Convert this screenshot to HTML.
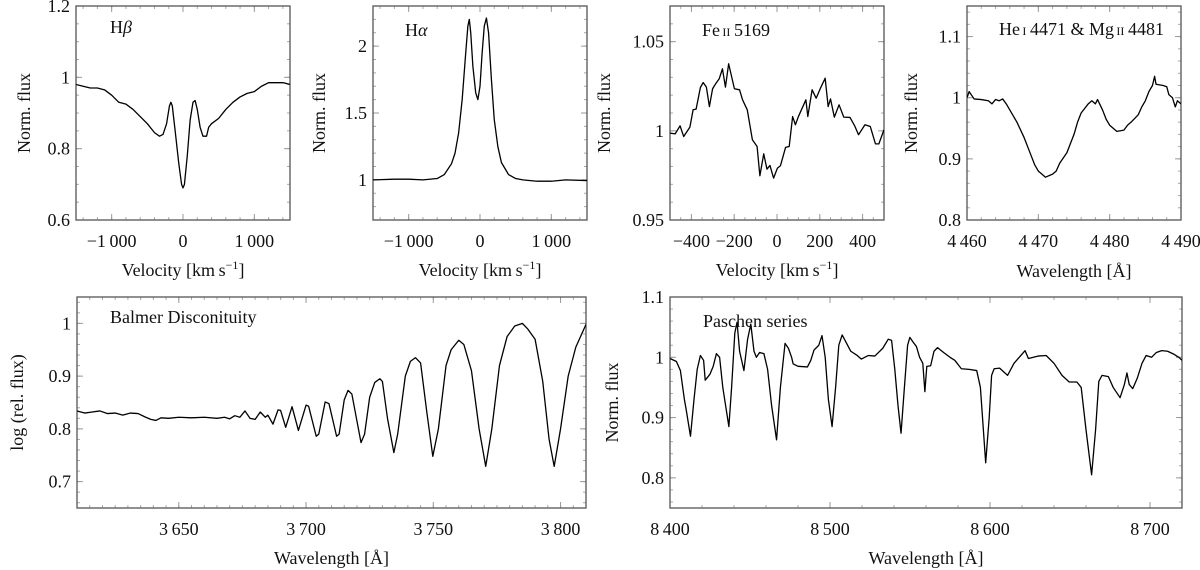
<!DOCTYPE html>
<html><head><meta charset="utf-8"><style>
html,body{margin:0;padding:0;background:#fff;}
svg{display:block;font-family:"Liberation Serif",serif;}
</style></head><body>
<svg id="fig" width="1200" height="570" viewBox="0 0 1200 570" xmlns="http://www.w3.org/2000/svg"></svg>
<script>
// ---- Hbeta ----
const hbVel = [-1500,-1400,-1300,-1200,-1100,-1000,-900,-800,-700,-600,-500,-400,-330,-280,-230,-190,-170,-150,-110,-60,-20,0,20,60,100,140,170,200,240,280,330,360,400,500,600,700,800,900,1000,1100,1200,1300,1400,1500];
const hbFlux = [0.98,0.975,0.97,0.97,0.965,0.95,0.93,0.925,0.91,0.89,0.87,0.845,0.835,0.84,0.87,0.92,0.93,0.92,0.85,0.76,0.70,0.69,0.70,0.78,0.88,0.93,0.935,0.91,0.86,0.835,0.835,0.86,0.87,0.885,0.91,0.93,0.945,0.955,0.96,0.975,0.985,0.985,0.985,0.98];
// ---- Halpha ----
const haVel = [-1500,-1200,-1000,-800,-600,-500,-400,-350,-300,-250,-200,-170,-150,-130,-100,-60,-30,0,30,60,90,120,160,200,250,300,400,500,600,800,1000,1200,1500];
const haFlux = [1.0,1.005,1.005,1.0,1.01,1.04,1.12,1.2,1.35,1.6,1.95,2.15,2.2,2.1,1.85,1.65,1.6,1.7,1.95,2.15,2.21,2.1,1.75,1.45,1.25,1.13,1.04,1.01,1.0,0.99,0.99,1.0,0.995];
// ---- Fe II 5169 ----
const feVel = [-500,-476,-453,-436,-407,-392,-378,-358,-345,-330,-316,-301,-285,-270,-255,-241,-226,-199,-175,-161,-139,-115,-93,-80,-62,-47,-33,-16,2,16,40,57,73,86,100,135,144,164,183,203,225,239,250,268,290,312,341,363,381,411,436,460,476,500];
const feFlux = [0.9987,0.9983,1.0028,0.9968,1.0021,1.0118,1.0122,1.0243,1.0271,1.0245,1.0136,1.0236,1.0267,1.0292,1.0348,1.0245,1.0376,1.0236,1.0230,1.0174,1.0118,0.9950,0.9912,0.9748,0.9871,0.9785,0.9806,0.9735,0.9791,0.9804,0.9907,0.9912,1.0080,1.0034,1.0080,1.0174,1.0080,1.0230,1.0183,1.0239,1.0295,1.0136,1.0179,1.0077,1.0146,1.0077,1.0075,1.0028,0.9978,1.0034,1.0024,0.9927,0.9927,1.0006];
// ---- He I 4471 & Mg II 4481 ----
const heWl = [4460,4460.3,4461,4462,4463,4463.5,4464,4464.5,4465,4465.5,4466,4467,4468,4469,4469.5,4470,4470.5,4471,4472,4472.5,4473,4474,4475,4475.5,4476,4477,4477.5,4478,4478.3,4479,4479.5,4480,4481,4482,4482.5,4483,4484,4484.5,4485,4485.5,4486,4486.3,4486.5,4487.5,4488,4488.3,4488.8,4489.2,4489.5,4490];
const heFlux = [1.0,1.01,0.998,0.997,0.995,0.99,0.997,0.995,0.998,0.99,0.98,0.96,0.935,0.905,0.89,0.88,0.875,0.87,0.875,0.88,0.893,0.91,0.94,0.96,0.975,0.99,0.995,0.99,0.997,0.98,0.965,0.955,0.945,0.947,0.955,0.96,0.972,0.985,0.995,1.01,1.02,1.035,1.022,1.02,1.018,1.005,1.0,0.985,0.995,0.99];
// ---- Balmer discontinuity ----
const baWl = [3610,3613,3616,3619,3622,3625,3628,3631,3634,3637,3639,3641,3643,3646,3650,3655,3660,3665,3668,3670,3672,3674,3676,3678,3680,3682,3684,3685,3687,3689,3690,3692,3694.5,3697,3700,3701,3704,3705,3707.5,3709,3712,3713,3715,3716.5,3718,3721.6,3723,3725,3727,3729,3730,3732,3734.5,3736,3739,3741,3743,3745,3747.5,3749.8,3752,3755,3757,3760,3762,3765,3768,3770.6,3773,3776,3779,3782,3785,3787,3790,3793,3795.5,3797.5,3800,3803,3806,3810];
const baFlux = [0.834,0.830,0.832,0.834,0.829,0.830,0.826,0.830,0.829,0.822,0.818,0.816,0.821,0.820,0.822,0.821,0.822,0.820,0.822,0.819,0.825,0.822,0.834,0.820,0.818,0.832,0.822,0.826,0.809,0.836,0.835,0.803,0.842,0.797,0.845,0.843,0.786,0.790,0.851,0.848,0.786,0.790,0.855,0.873,0.866,0.774,0.790,0.860,0.888,0.895,0.890,0.820,0.755,0.790,0.900,0.928,0.935,0.925,0.830,0.748,0.800,0.920,0.950,0.968,0.960,0.910,0.800,0.729,0.800,0.920,0.975,0.995,1.0,0.990,0.970,0.890,0.780,0.729,0.800,0.900,0.955,0.998];
// ---- Paschen series ----
const paWl = [8400,8404,8406.5,8409,8410,8412.8,8415,8417,8419,8421,8422,8425,8427,8429,8431,8433,8436.8,8438.5,8440.5,8441.9,8443.5,8446.2,8448.5,8450.5,8452.5,8454,8456,8458.7,8461,8463.5,8466.6,8469,8471.9,8474,8476,8477,8480,8485.9,8488,8490,8493,8495,8497,8499,8501.3,8503.5,8505.5,8507.6,8510,8513,8517,8519.6,8524,8528,8533,8536.4,8538.5,8540.5,8542.5,8544.4,8546.5,8548.5,8549.9,8552,8554,8556,8558,8559.3,8560.5,8562.9,8565,8567.2,8571,8575,8578,8582.1,8587,8591.7,8594,8597.3,8599.5,8601,8602.6,8606,8611,8615,8621.9,8624,8630,8635.1,8640,8645,8649.5,8654.3,8657,8660,8663.5,8666,8668,8670,8674,8677,8681.3,8684,8685.6,8687,8689.2,8692,8695,8697.6,8701,8704,8707.3,8711,8715,8718,8720];
const paFlux = [0.998,0.993,0.978,0.930,0.915,0.869,0.930,0.980,1.003,0.995,0.962,0.972,0.985,1.006,1.000,0.950,0.885,0.950,1.040,1.058,1.010,0.978,1.030,1.055,1.010,1.000,1.008,1.006,0.980,0.920,0.863,0.950,1.023,1.015,1.000,0.989,0.985,0.984,0.995,1.012,1.020,1.036,1.000,0.930,0.885,0.950,1.020,1.037,1.025,1.010,1.003,0.997,1.003,1.002,1.015,1.030,1.028,0.980,0.920,0.874,0.950,1.020,1.033,1.025,1.018,1.000,0.990,0.943,0.985,0.986,1.010,1.016,1.008,1.000,0.995,0.981,0.980,0.978,0.950,0.825,0.900,0.970,0.981,0.982,0.970,0.990,1.011,0.998,1.002,1.003,0.990,0.970,0.959,0.959,0.950,0.880,0.805,0.880,0.960,0.970,0.968,0.950,0.933,0.955,0.974,0.955,0.948,0.965,0.990,1.003,1.000,1.008,1.011,1.010,1.005,1.000,0.995];

const NS = "http://www.w3.org/2000/svg";
const svg = document.getElementById('fig');
function mk(tag, attrs, parent){
  const e = document.createElementNS(NS, tag);
  for (const k in attrs) e.setAttribute(k, attrs[k]);
  (parent||svg).appendChild(e);
  return e;
}
function fmt(v){
  let s = String(parseFloat(Math.abs(v).toFixed(4)));
  let [i, f] = s.split('.');
  if (i.length >= 4) i = i.slice(0, i.length-3) + '\u2009' + i.slice(-3);
  s = f ? i + '.' + f : i;
  return (v < 0 ? '\u2212' : '') + s;
}
let clipId = 0;
const FS = 18;
function panel(cfg){
  const g = mk('g', {});
  
  
  const {x0,x1,y0,y1,xmin,xmax,ymin,ymax} = cfg;
  const sx = v => x0 + (v - xmin) / (xmax - xmin) * (x1 - x0);
  const sy = v => y1 - (v - ymin) / (ymax - ymin) * (y1 - y0);
  for (let v = Math.ceil(xmin/cfg.xminor - 1e-6)*cfg.xminor; v <= xmax + 1e-9; v += cfg.xminor){
    const X = sx(v);
    mk('line',{x1:X,x2:X,y1:y1,y2:y1-3,stroke:'#aaa','stroke-width':1},g);
    mk('line',{x1:X,x2:X,y1:y0,y2:y0+3,stroke:'#aaa','stroke-width':1},g);
  }
  for (let v = Math.ceil(ymin/cfg.yminor - 1e-6)*cfg.yminor; v <= ymax + 1e-9; v += cfg.yminor){
    const Y = sy(v);
    mk('line',{x1:x0,x2:x0+3,y1:Y,y2:Y,stroke:'#aaa','stroke-width':1},g);
    mk('line',{x1:x1,x2:x1-3,y1:Y,y2:Y,stroke:'#aaa','stroke-width':1},g);
  }
  cfg.xticks.forEach(v => {
    const X = sx(v);
    mk('line',{x1:X,x2:X,y1:y1,y2:y1-6,stroke:'#999','stroke-width':1},g);
    mk('line',{x1:X,x2:X,y1:y0,y2:y0+6,stroke:'#999','stroke-width':1},g);
    const t = mk('text',{x:X,y:y1+27,'text-anchor':'middle','font-size':FS,fill:'#111'},g);
    t.textContent = fmt(v);
    
    
  });
  cfg.yticks.forEach(v => {
    const Y = sy(v);
    mk('line',{x1:x0,x2:x0+6,y1:Y,y2:Y,stroke:'#999','stroke-width':1},g);
    mk('line',{x1:x1,x2:x1-6,y1:Y,y2:Y,stroke:'#999','stroke-width':1},g);
    const t = mk('text',{x:x0-6,y:Y+6,'text-anchor':'end','font-size':FS,fill:'#111'},g);
    t.textContent = fmt(v);
    
    
  });
  const fr = mk('rect',{x:x0,y:y0,width:x1-x0,height:y1-y0,fill:'none',stroke:'#555','stroke-width':1.3},g);
  
  
  clipId++;
  const cp = mk('clipPath',{id:'c'+clipId},g);
  mk('rect',{x:x0,y:y0,width:x1-x0,height:y1-y0},cp);
  let d = '';
  cfg.xs.forEach((v,i) => { d += (i ? 'L' : 'M') + sx(v).toFixed(2) + ' ' + sy(cfg.ys[i]).toFixed(2); });
  const p = mk('path',{d:d,fill:'none',stroke:'#000','stroke-width':1.3,'stroke-linejoin':'round','clip-path':'url(#c'+clipId+')'},g);
  
  
  const xl = mk('text',{x:(x0+x1)/2,y:cfg.xlabY,'text-anchor':'middle','font-size':FS,fill:'#111'},g);
  xl.innerHTML = cfg.xlabel;
  
  
  const yl = mk('text',{x:0,y:0,'text-anchor':'middle','font-size':FS,fill:'#111',transform:'translate('+cfg.ylabX+','+((y0+y1)/2)+') rotate(-90)'},g);
  yl.textContent = cfg.ylabel;
  
  
  const an = mk('text',{x:cfg.ax,y:cfg.ay,'font-size':FS,fill:'#111'},g);
  an.innerHTML = cfg.annot;
  
  
}
const vlab = 'Velocity [km\u2009s<tspan dy="-7" font-size="12">\u22121</tspan><tspan dy="7">]</tspan>';
const wlab = 'Wavelength [Å]';
const sm = s => '<tspan font-size="12">' + s + '</tspan>';
panel({name:'hbeta-panel',x0:76,x1:290,y0:6,y1:220,xmin:-1500,xmax:1500,ymin:0.6,ymax:1.2,xminor:200,yminor:0.05,xticks:[-1000,0,1000],yticks:[0.6,0.8,1,1.2],xs:hbVel,ys:hbFlux,xlabel:vlab,ylabel:'Norm. flux',xlabY:276,ylabX:30,ax:110,ay:33,annot:'H<tspan font-style="italic">β</tspan>'});
panel({name:'halpha-panel',x0:373,x1:587,y0:6,y1:220,xmin:-1500,xmax:1500,ymin:0.7,ymax:2.3,xminor:200,yminor:0.1,xticks:[-1000,0,1000],yticks:[1,1.5,2],xs:haVel,ys:haFlux,xlabel:vlab,ylabel:'Norm. flux',xlabY:276,ylabX:325,ax:405,ay:36,annot:'H<tspan font-style="italic">α</tspan>'});
panel({name:'fe-ii-panel',x0:670,x1:884,y0:6,y1:220,xmin:-500,xmax:500,ymin:0.95,ymax:1.07,xminor:50,yminor:0.01,xticks:[-400,-200,0,200,400],yticks:[0.95,1,1.05],xs:feVel,ys:feFlux,xlabel:vlab,ylabel:'Norm. flux',xlabY:276,ylabX:610,ax:702,ay:36,annot:'Fe'+sm('\u2009II')+'\u20095169'});
panel({name:'he-mg-panel',x0:967,x1:1181,y0:6,y1:220,xmin:4460,xmax:4490,ymin:0.8,ymax:1.15,xminor:2,yminor:0.02,xticks:[4460,4470,4480,4490],yticks:[0.8,0.9,1,1.1],xs:heWl,ys:heFlux,xlabel:wlab,ylabel:'Norm. flux',xlabY:277,ylabX:917,ax:999,ay:35,annot:'He'+sm('\u2009I')+'\u20094471 &amp; Mg'+sm('\u2009II')+'\u20094481'});
panel({name:'balmer-panel',x0:77,x1:586,y0:297,y1:508,xmin:3610,xmax:3810,ymin:0.65,ymax:1.05,xminor:5,yminor:0.02,xticks:[3650,3700,3750,3800],yticks:[0.7,0.8,0.9,1],xs:baWl,ys:baFlux,xlabel:wlab,ylabel:'log (rel. flux)',xlabY:564,ylabX:23,ax:110,ay:323,annot:'Balmer Disconituity'});
panel({name:'paschen-panel',x0:670,x1:1182,y0:297,y1:508,xmin:8400,xmax:8720,ymin:0.75,ymax:1.1,xminor:20,yminor:0.02,xticks:[8400,8500,8600,8700],yticks:[0.8,0.9,1,1.1],xs:paWl,ys:paFlux,xlabel:wlab,ylabel:'Norm. flux',xlabY:564,ylabX:618,ax:703,ay:327,annot:'Paschen series'});
</script>
</body></html>
